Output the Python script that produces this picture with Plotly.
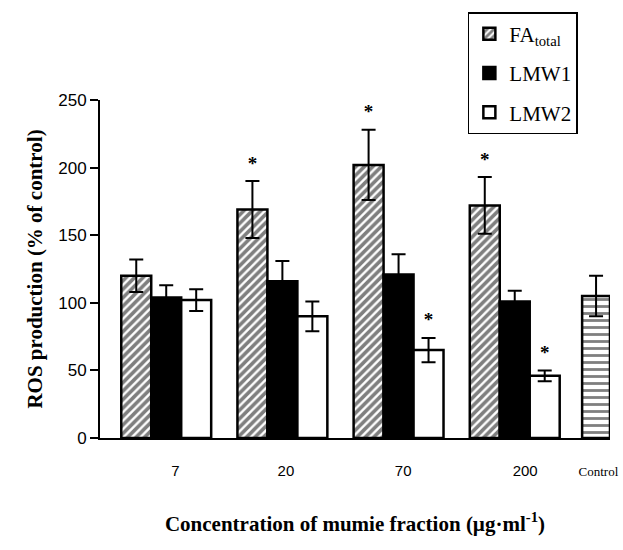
import plotly.graph_objects as go

groups = ["7", "20", "70", "200"]
fa_total = [120, 169, 202, 172]
fa_err = [12, 21, 26, 21]
lmw1 = [104, 116, 121, 101]
lmw1_err = [9, 15, 15, 8]
lmw2 = [102, 90, 65, 46]
lmw2_err = [8, 11, 9, 4]
control = [105]
control_err = [15]
fa_sig = [False, True, True, True]
lmw1_sig = [False, False, False, False]
lmw2_sig = [False, False, True, True]

xpos = list(range(len(groups)))
ctrl_x = [3.7]
bw = 0.258
line = dict(color="black", width=2.5)
eb = lambda e: dict(type="data", array=e, visible=True, color="black", thickness=2, width=7)

fig = go.Figure()
fig.add_trace(go.Bar(x=xpos, y=fa_total, width=bw, offset=-1.5 * bw, name="FA<sub>total</sub>",
                     legendgroup="a",
                     marker=dict(color="white", line=line,
                                 pattern=dict(shape="/", fgcolor="black", bgcolor="white", size=6, solidity=0.6)),
                     error_y=eb(fa_err)))
fig.add_trace(go.Bar(x=xpos, y=lmw1, width=bw, offset=-0.5 * bw, name="LMW1", legendgroup="b",
                     marker=dict(color="black", line=line), error_y=eb(lmw1_err)))
fig.add_trace(go.Bar(x=xpos, y=lmw2, width=bw, offset=0.5 * bw, name="LMW2", legendgroup="c",
                     marker=dict(color="white", line=line), error_y=eb(lmw2_err)))
fig.add_trace(go.Bar(x=ctrl_x, y=control, width=0.24, offset=-0.12, showlegend=False,
                     marker=dict(color="white", line=line,
                                 pattern=dict(shape="-", fgcolor="black", bgcolor="white", size=7, solidity=0.4)),
                     error_y=eb(control_err)))

# significance asterisks
sx, sy = [], []
for vals, errs, sig, k in [(fa_total, fa_err, fa_sig, -1), (lmw1, lmw1_err, lmw1_sig, 0), (lmw2, lmw2_err, lmw2_sig, 1)]:
    for i, s in enumerate(sig):
        if s:
            sx.append(xpos[i] + k * bw)
            sy.append(vals[i] + errs[i] + 12)
fig.add_trace(go.Scatter(x=sx, y=sy, mode="text", text=["<b>*</b>"] * len(sx), showlegend=False,
                         textfont=dict(family="Liberation Serif", size=19, color="#000000"),
                         cliponaxis=False, hoverinfo="skip"))

fig.update_layout(
    width=623, height=550,
    margin=dict(l=100, r=13, t=100, b=112, autoexpand=False),
    paper_bgcolor="white", plot_bgcolor="white",
    barmode="overlay",
    showlegend=True,
    legend=dict(x=0.937, y=1.26, xanchor="right", yanchor="top",
                bordercolor="black", borderwidth=1.5, bgcolor="white",
                font=dict(family="Liberation Serif", size=21, color="black"),
                tracegroupgap=9, itemwidth=30),
    xaxis=dict(range=[-0.57, 3.82], showgrid=False, zeroline=False, showline=True, automargin=False,
               linecolor="black", linewidth=2, ticks="outside", ticklen=18, tickcolor="rgba(0,0,0,0)",
               tickvals=[0.08, 1.03, 2.04, 3.09, 3.72],
               ticktext=groups + ["<span style='font-family:Liberation Serif;font-size:13px'>Control</span>"],
               tickfont=dict(family="Liberation Sans", size=15, color="black"),
               title=dict(text="<b>Concentration of mumie fraction (µg·ml<sup>-1</sup>)</b>",
                          font=dict(family="Liberation Serif", size=21, color="black"), standoff=38)),
    yaxis=dict(range=[0, 250], showgrid=False, zeroline=False, showline=True, automargin=False,
               linecolor="black", linewidth=2, ticks="outside", ticklen=8, tickwidth=2,
               tickcolor="black", tickvals=[0, 50, 100, 150, 200, 250],
               tickfont=dict(family="Liberation Sans", size=17, color="black"),
               title=dict(text="<b>ROS production (% of control)</b>",
                          font=dict(family="Liberation Serif", size=21, color="black"), standoff=10)),
)

fig.write_html("out.html", config={"displayModeBar": False},
               post_script="document.body.style.margin='0';document.body.style.overflow='hidden';")
